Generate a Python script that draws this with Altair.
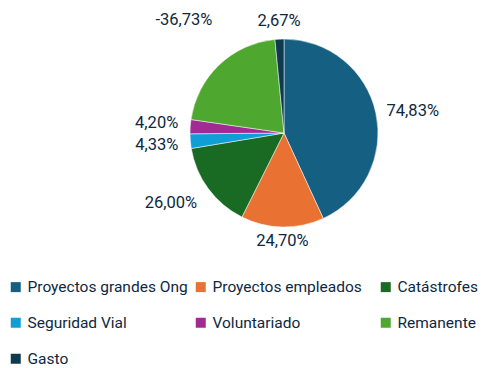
import altair as alt
import pandas as pd

categories = ["Proyectos grandes Ong", "Proyectos empleados", "Catástrofes",
              "Seguridad Vial", "Voluntariado", "Remanente", "Gasto"]
values = [74.83, 24.70, 26.00, 4.33, 4.20, -36.73, 2.67]
colors = ["#156082", "#E97132", "#196B24", "#0F9ED5", "#A02B93", "#4EA72E", "#0D3A4E"]

df = pd.DataFrame({"cat": categories, "v": values, "idx": list(range(len(categories)))})

FONT = "Roboto"
TXT = "#0E2841"

base = alt.Chart(df).transform_calculate(
    a="abs(datum.v)",
    label="(datum.v < 0 ? '-' : '') + replace(format(abs(datum.v), '.2f'), '.', ',') + '%'",
).encode(
    theta=alt.Theta("a:Q", stack=True),
    order=alt.Order("idx:Q"),
)

pie = base.mark_arc(radius=94, stroke="white", strokeWidth=0.5).encode(
    color=alt.Color("cat:N", scale=alt.Scale(domain=categories, range=colors),
                    sort=categories,
                    legend=alt.Legend(title=None, orient="none", legendX=-126, legendY=266,
                                      direction="horizontal",
                                      columns=3, gridAlign="all", symbolType="square",
                                      symbolSize=100, symbolStrokeWidth=0,
                                      labelFont=FONT, labelFontSize=15.5, labelColor=TXT,
                                      labelOffset=4, columnPadding=5, rowPadding=19,
                                      labelLimit=300)),
)

def lbl(cats, radius, align, baseline, dy=0):
    test = " || ".join(f"datum.cat == '{c}'" for c in cats)
    return base.mark_text(radius=radius, align=align, baseline=baseline, dy=dy,
                          font=FONT, fontSize=16.5, color=TXT).encode(
        text=alt.condition(test, alt.Text("label:N"), alt.value(""))
    )

chart = alt.layer(
    pie,
    lbl(["Proyectos grandes Ong"], 105, "left", "middle"),
    lbl(["Proyectos empleados"], 100, "center", "top"),
    lbl(["Catástrofes"], 108, "right", "middle", dy=6),
    lbl(["Seguridad Vial"], 106, "right", "middle", dy=3),
    lbl(["Voluntariado"], 106, "right", "middle", dy=-3),
    lbl(["Remanente"], 145, "center", "bottom"),
    lbl(["Gasto"], 104, "center", "bottom"),
).properties(
    width=300, height=240,
    autosize=alt.AutoSizeParams(type="none"),
    padding={"left": 126, "top": 5, "right": 54, "bottom": 115},
).configure_view(stroke=None)

chart.save("out.html", embed_options={"renderer": "svg", "actions": False})
